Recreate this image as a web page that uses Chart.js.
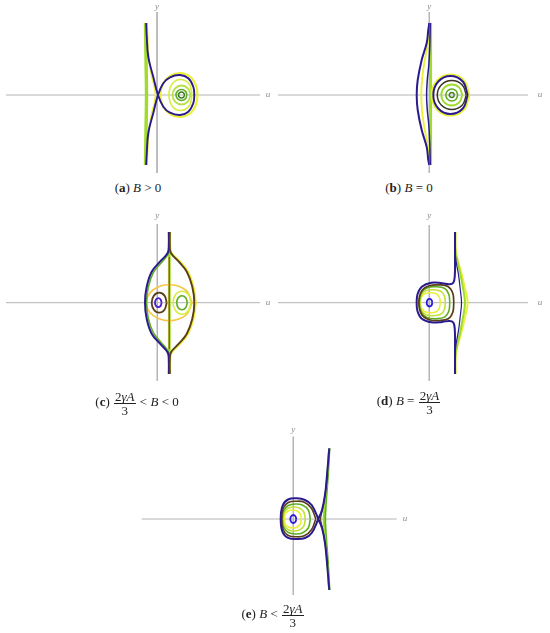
<!DOCTYPE html>
<html lang="en">
<head>
<meta charset="UTF-8">
<title>Phase portraits</title>
<script src="https://cdn.jsdelivr.net/npm/chart.js"></script>
<style>
  body { margin: 0; background: #fff; width: 550px; height: 633px; position: relative; overflow: hidden; font-family: 'Liberation Serif', serif; }
  canvas { position: absolute; }
  .cap { position: absolute; width: 200px; text-align: center; font-size: 13px; line-height: 16px; color: #222; white-space: nowrap; }
  .frac { display: inline-block; vertical-align: middle; text-align: center; line-height: 13px; margin: 0 1px; }
  .frac span { display: block; padding: 0 1px; }
  .frac .num { border-bottom: 1px solid #222; }
</style>
</head>
<body>
<canvas id="pa" width="275" height="180" style="left:0;top:0"></canvas>
<canvas id="pb" width="275" height="180" style="left:275px;top:0"></canvas>
<canvas id="pc" width="275" height="180" style="left:0;top:212px"></canvas>
<canvas id="pd" width="275" height="180" style="left:275px;top:212px"></canvas>
<canvas id="pe" width="280" height="180" style="left:135px;top:425px"></canvas>

<div class="cap" style="left:38px;top:180px">(<b>a</b>) <i>B</i> &gt; 0</div>
<div class="cap" style="left:309px;top:180px">(<b>b</b>) <i>B</i> = 0</div>
<div class="cap" style="left:37px;top:390px">(<b>c</b>) <span class="frac"><span class="num">2<i>γA</i></span><span>3</span></span> &lt; <i>B</i> &lt; 0</div>
<div class="cap" style="left:309px;top:389px">(<b>d</b>) <i>B</i> = <span class="frac"><span class="num">2<i>γA</i></span><span>3</span></span></div>
<div class="cap" style="left:173px;top:602px">(<b>e</b>) <i>B</i> &lt; <span class="frac"><span class="num">2<i>γA</i></span><span>3</span></span></div>

<script>
// axis extents per panel: [uMin, uMax, yMin, yMax, uLabel, yLabel]
const aAxis = [-15.1, 10.3, -7.8, 8.3, 11.1, 8.8];
const bAxis = [-15.13, 9.87, -7.8, 8.3, 11.07, 8.8];
const cAxis = [-15.13, 10.27, -7.83, 7.87, 11.07, 8.67];
const dAxis = [-15.13, 9.87, -7.83, 7.77, 11.07, 8.67];
const eAxis = [-15.16, 10.34, -7.6, 8.23, 11.17, 8.9];

// (a) B > 0
const aGreen = [[-1.15,7.2],[-1.1,3.5],[-1.05,0],[-1.1,-3.5],[-1.15,-7.0]];
const aYellowLeft = [[-1.0,7.2],[-0.85,4.0],[-0.55,2.0],[-0.25,0.8],[-0.15,0],[-0.25,-0.8],[-0.55,-2.0],[-0.85,-4.0],[-1.0,-7.0]];
const aYellowLoop = [[0.3,0],[0.6,1.15],[1.3,1.9],[2.3,2.2],[3.3,1.85],[3.9,0.95],[4.05,0],[3.9,-0.95],[3.3,-1.85],[2.3,-2.2],[1.3,-1.9],[0.6,-1.15],[0.3,0]];
const aSeparatrix = [[-1.08,7.2],[-1.03,6.0],[-0.87,3.8],[-0.37,1.8],[0.1,0],[0.63,-1.17],[1.3,-1.77],[2.3,-2.0],[3.13,-1.67],[3.63,-0.83],[3.73,0],[3.63,0.83],[3.13,1.67],[2.3,2.0],[1.3,1.77],[0.63,1.17],[0.1,0],[-0.37,-1.8],[-0.87,-3.8],[-1.03,-6.0],[-1.08,-7.0]];
const aRingYellow = [[3.5,0],[3.25,1.05],[2.4,1.55],[1.55,1.15],[1.2,0],[1.55,-1.15],[2.4,-1.55],[3.25,-1.05],[3.5,0]];
const aRingLime = [[3.35,0],[3.09,0.67],[2.45,0.95],[1.81,0.67],[1.55,0],[1.81,-0.67],[2.45,-0.95],[3.09,-0.67],[3.35,0]];
const aRingGreen = [[3.0,0],[2.84,0.39],[2.45,0.55],[2.06,0.39],[1.9,0],[2.06,-0.39],[2.45,-0.55],[2.84,-0.39],[3.0,0]];
const aRingDark = [[2.75,0],[2.66,0.21],[2.45,0.3],[2.24,0.21],[2.15,0],[2.24,-0.21],[2.45,-0.3],[2.66,-0.21],[2.75,0]];

// (b) B = 0
const bOuterLeft = [[0.0,7.2],[-0.1,6.5],[-0.26,5.2],[-0.76,3.5],[-1.16,1.5],[-1.26,0],[-1.16,-1.5],[-0.76,-3.5],[-0.26,-5.2],[-0.1,-6.5],[0.0,-7.0]];
const bYellowLeft = [[0.05,7.2],[-0.02,6.3],[-0.15,5.0],[-0.45,3.5],[-0.72,1.6],[-0.8,0],[-0.72,-1.6],[-0.45,-3.5],[-0.15,-5.0],[-0.02,-6.3],[0.05,-7.0]];
const bInnerLeft = [[0.1,7.2],[0.05,5.0],[-0.05,3.0],[-0.2,1.5],[-0.27,0],[-0.2,-1.5],[-0.05,-3.0],[0.05,-5.0],[0.1,-7.0]];
const bGreenLine = [[0.15,7.2],[0.15,-7.0]];
const bLoopYellow = [[4.0,0],[3.47,1.45],[2.12,2.05],[0.77,1.45],[0.25,0],[0.77,-1.45],[2.12,-2.05],[3.47,-1.45],[4.0,0]];
const bLoopNavy = [[3.84,0],[3.35,1.35],[2.12,1.9],[0.9,1.35],[0.4,0],[0.9,-1.35],[2.12,-1.9],[3.35,-1.35],[3.84,0]];
const bRingDark = [[3.7,0],[3.28,1.03],[2.25,1.45],[1.22,1.03],[0.8,0],[1.22,-1.03],[2.25,-1.45],[3.28,-1.03],[3.7,0]];
const bRingLime = [[3.3,0],[3.0,0.74],[2.25,1.05],[1.5,0.74],[1.2,0],[1.5,-0.74],[2.25,-1.05],[3.0,-0.74],[3.3,0]];
const bRingGreen = [[2.85,0],[2.67,0.42],[2.25,0.6],[1.83,0.42],[1.65,0],[1.83,-0.42],[2.25,-0.6],[2.67,-0.42],[2.85,0]];
const bRingInner = [[2.5,0],[2.43,0.18],[2.25,0.25],[2.07,0.18],[2.0,0],[2.07,-0.18],[2.25,-0.25],[2.43,-0.18],[2.5,0]];

// (c) 2γA/3 < B < 0
const cNavy = [[1.15,7.07],[1.15,5.8],[1.05,5.0],[0.27,4.1],[-0.56,3.1],[-1.06,1.6],[-1.23,0],[-1.06,-1.6],[-0.56,-3.1],[0.27,-4.1],[1.05,-5.0],[1.15,-5.8],[1.15,-7.13]];
const cGreenLeft = [[1.2,7.07],[1.2,5.6],[1.08,4.85],[0.4,4.0],[-0.4,3.0],[-0.9,1.55],[-1.07,0],[-0.9,-1.55],[-0.4,-3.0],[0.4,-4.0],[1.08,-4.85],[1.2,-5.6],[1.2,-7.13]];
const cBrown = [[1.25,7.07],[1.25,5.8],[1.35,5.0],[2.15,4.1],[2.95,3.1],[3.5,1.6],[3.7,0],[3.5,-1.6],[2.95,-3.1],[2.15,-4.1],[1.35,-5.0],[1.25,-5.8],[1.25,-7.13]];
const cYellowRight = [[1.3,7.07],[1.3,5.8],[1.42,5.0],[2.25,4.15],[3.08,3.1],[3.62,1.6],[3.85,0],[3.62,-1.6],[3.08,-3.1],[2.25,-4.15],[1.42,-5.0],[1.3,-5.8],[1.3,-7.13]];
const cGreenLine = [[1.2,7.07],[1.2,-7.13]];
const cRedLine = [[1.2,4.57],[1.2,-4.63]];
const cOval = [[3.5,0],[2.83,1.27],[1.2,1.8],[-0.43,1.27],[-1.1,0],[-0.43,-1.27],[1.2,-1.8],[2.83,-1.27],[3.5,0]];
const cBrownRing = [[0.94,0],[0.72,0.71],[0.19,1.0],[-0.34,0.71],[-0.56,0],[-0.34,-0.71],[0.19,-1.0],[0.72,-0.71],[0.94,0]];
const cPurpleRing = [[0.43,0],[0.33,0.32],[0.1,0.45],[-0.13,0.32],[-0.23,0],[-0.13,-0.32],[0.1,-0.45],[0.33,-0.32],[0.43,0]];
const cGreenRing = [[3.0,0],[2.84,0.5],[2.47,0.7],[2.1,0.5],[1.94,0],[2.1,-0.5],[2.47,-0.7],[2.84,-0.5],[3.0,0]];
const cYellowRing = [[3.37,0],[3.11,0.81],[2.47,1.15],[1.83,0.81],[1.57,0],[1.83,-0.81],[2.47,-1.15],[3.11,-0.81],[3.37,0]];

// (d) B = 2γA/3
const dNavy = [[2.57,7.07],[2.57,4.5],[2.55,2.7],[2.4,2.0],[2.0,1.85],[1.3,1.95],[0.2,2.0],[-0.75,1.6],[-1.18,0.85],[-1.26,0],[-1.18,-0.85],[-0.75,-1.6],[0.2,-1.96],[1.3,-1.92],[2.0,-1.82],[2.4,-1.98],[2.55,-2.7],[2.57,-4.5],[2.57,-7.13]];
const dYellowBulge = [[2.62,7.07],[2.62,5.5],[2.75,4.6],[3.2,3.0],[3.6,1.3],[3.84,0],[3.6,-1.3],[3.2,-3.0],[2.75,-4.6],[2.62,-5.5],[2.62,-7.13]];
const dGreenBulge = [[2.6,7.07],[2.6,5.5],[2.72,4.6],[3.08,3.0],[3.4,1.3],[3.57,0],[3.4,-1.3],[3.08,-3.0],[2.72,-4.6],[2.6,-5.5],[2.6,-7.13]];
const dNavyBulge = [[2.58,5.0],[2.7,4.0],[2.92,2.8],[3.1,1.3],[3.22,0],[3.1,-1.3],[2.92,-2.8],[2.7,-4.0],[2.58,-5.0]];
const dBrownRing = [[2.45,0],[2.35,0.95],[1.9,1.6],[1.0,1.78],[0.0,1.7],[-0.75,1.2],[-1.05,0],[-0.75,-1.2],[0.0,-1.7],[1.0,-1.78],[1.9,-1.6],[2.35,-0.95],[2.45,0]];
const dGreenRing = [[2.05,0],[1.95,0.85],[1.55,1.42],[0.7,1.6],[-0.2,1.5],[-0.75,1.05],[-1.0,0],[-0.75,-1.05],[-0.2,-1.5],[0.7,-1.6],[1.55,-1.42],[1.95,-0.85],[2.05,0]];
const dLimeRing = [[1.6,0],[1.5,0.7],[1.15,1.15],[0.4,1.3],[-0.35,1.2],[-0.78,0.8],[-0.95,0],[-0.78,-0.8],[-0.35,-1.2],[0.4,-1.3],[1.15,-1.15],[1.5,-0.7],[1.6,0]];
const dYellowRing = [[1.1,0],[1.0,0.55],[0.7,0.9],[0.1,1.0],[-0.5,0.88],[-0.8,0.5],[-0.9,0],[-0.8,-0.5],[-0.5,-0.88],[0.1,-1.0],[0.7,-0.9],[1.0,-0.55],[1.1,0]];
const dPurpleRing = [[0.3,0],[0.22,0.27],[0.02,0.38],[-0.18,0.27],[-0.26,0],[-0.18,-0.27],[0.02,-0.38],[0.22,-0.27],[0.3,0]];

// (e) B < 2γA/3
const eNavy = [[3.6,7.07],[3.37,4.4],[3.17,2.4],[2.87,0.9],[2.5,0],[1.84,-1.4],[1.17,-1.9],[0.37,-2.0],[-0.53,-1.88],[-1.08,-1.3],[-1.26,0],[-1.08,1.3],[-0.53,1.95],[0.37,2.07],[1.17,1.9],[1.84,1.4],[2.5,0],[2.87,-0.9],[3.17,-2.4],[3.37,-4.4],[3.6,-7.1]];
const eGreen = [[3.6,7.07],[3.45,4.4],[3.3,2.4],[3.2,0.9],[3.17,0],[3.2,-0.9],[3.3,-2.4],[3.45,-4.4],[3.6,-7.1]];
const eLime = [[3.58,7.07],[3.4,4.4],[3.22,2.4],[3.08,0.9],[3.03,0],[3.08,-0.9],[3.22,-2.4],[3.4,-4.4],[3.58,-7.1]];
const eBrownOpen = [[3.45,4.5],[3.2,2.6],[2.95,1.1],[2.78,0.35],[2.72,0],[2.78,-0.35],[2.95,-1.1],[3.2,-2.6],[3.45,-4.5]];
const eBrownRing = [[2.25,0],[1.8,1.1],[1.1,1.68],[0.3,1.78],[-0.5,1.65],[-1.0,1.1],[-1.15,0],[-1.0,-1.1],[-0.5,-1.65],[0.3,-1.78],[1.1,-1.68],[1.8,-1.1],[2.25,0]];
const eGreenRing = [[1.7,0],[1.5,0.9],[0.9,1.4],[0.2,1.5],[-0.5,1.35],[-0.95,0.85],[-1.1,0],[-0.95,-0.85],[-0.5,-1.35],[0.2,-1.5],[0.9,-1.4],[1.5,-0.9],[1.7,0]];
const eLimeRing = [[1.2,0],[1.05,0.7],[0.6,1.1],[0.0,1.2],[-0.55,1.05],[-0.9,0.65],[-1.02,0],[-0.9,-0.65],[-0.55,-1.05],[0.0,-1.2],[0.6,-1.1],[1.05,-0.7],[1.2,0]];
const eYellowRing = [[0.8,0],[0.7,0.5],[0.35,0.82],[-0.1,0.9],[-0.55,0.78],[-0.82,0.45],[-0.9,0],[-0.82,-0.45],[-0.55,-0.78],[-0.1,-0.9],[0.35,-0.82],[0.7,-0.5],[0.8,0]];
const ePurpleRing = [[0.3,0],[0.21,0.28],[0,0.4],[-0.21,0.28],[-0.3,0],[-0.21,-0.28],[0,-0.4],[0.21,-0.28],[0.3,0]];

// colours
const NAVY = '#2a1a8e', GREEN = '#5fae22', LIME = '#9fdc2c', YELLOW = '#eaf03a',
      DKGREEN = '#3d7d22', BROWN = '#5a3e16', RED = '#b2502a', ORANGE = '#f4c846', DARK = '#3a3326';
const AXIS = '#b4b4b4';

const axisNames = {
  id: 'axisNames',
  afterDraw(chart, args, opts) {
    const ctx = chart.ctx, xs = chart.scales.x, ys = chart.scales.y;
    ctx.save();
    ctx.fillStyle = '#8a8a8a';
    ctx.font = 'italic 9px "Liberation Serif"';
    ctx.textAlign = 'center';
    ctx.textBaseline = 'middle';
    ctx.fillText('u', xs.getPixelForValue(opts.u), ys.getPixelForValue(0));
    ctx.fillText('y', xs.getPixelForValue(0), ys.getPixelForValue(opts.y));
    ctx.restore();
  }
};

function line(arr, color, width) {
  return {
    data: arr.map(p => ({ x: p[0], y: p[1] })),
    borderColor: color, borderWidth: width,
    showLine: true, pointRadius: 0, tension: arr.length > 2 ? 0.4 : 0, fill: false
  };
}

// curves listed bottom to top
function panel(id, left, top, ox, oy, axis, curves) {
  const cv = document.getElementById(id);
  const w = cv.width, h = cv.height;
  const sets = [
    line([[axis[0], 0], [axis[1], 0]], AXIS, 1),
    line([[0, axis[3]], [0, axis[2]]], AXIS, 1)
  ].concat(curves.map(c => line(c[0], c[1], c[2])));
  new Chart(cv, {
    type: 'scatter',
    data: { datasets: sets.reverse() },
    options: {
      responsive: false, animation: false,
      layout: { padding: 0 },
      scales: {
        x: { display: false, min: (left - ox) / 10, max: (left + w - ox) / 10 },
        y: { display: false, min: (oy - top - h) / 10, max: (oy - top) / 10 }
      },
      plugins: { legend: { display: false }, tooltip: { enabled: false },
                 axisNames: { u: axis[4], y: axis[5] } }
    },
    plugins: [axisNames]
  });
}

panel('pa', 0, 0, 157, 95, aAxis, [
  [aGreen, LIME, 3.4], [aYellowLeft, YELLOW, 1.8], [aYellowLoop, YELLOW, 2.2],
  [aRingYellow, '#d8ec40', 1.6], [aRingLime, '#b6e04a', 1.8], [aRingGreen, GREEN, 1.6],
  [aRingDark, DKGREEN, 1.5], [aSeparatrix, NAVY, 1.9]
]);

panel('pb', 275, 0, 429.3, 95, bAxis, [
  [bYellowLeft, YELLOW, 1.9], [bOuterLeft, NAVY, 2.0], [bGreenLine, LIME, 2.6], [bInnerLeft, NAVY, 1.5],
  [bLoopYellow, YELLOW, 2.2], [bLoopNavy, NAVY, 1.9], [bRingDark, DARK, 1.5],
  [bRingLime, LIME, 1.9], [bRingGreen, GREEN, 1.6], [bRingInner, DKGREEN, 1.5]
]);

panel('pc', 0, 212, 157.3, 302.7, cAxis, [
  [cGreenLine, LIME, 2.8], [cYellowRight, YELLOW, 1.9], [cOval, ORANGE, 1.6],
  [cGreenLeft, GREEN, 1.6], [cNavy, NAVY, 2.0], [cBrown, BROWN, 1.9], [cRedLine, RED, 1.4],
  [cBrownRing, BROWN, 1.8], [cPurpleRing, '#4a1ad0', 1.8],
  [cYellowRing, '#d6ec40', 1.6], [cGreenRing, GREEN, 1.6]
]);

panel('pd', 275, 212, 429.3, 302.7, dAxis, [
  [dYellowBulge, YELLOW, 2.0], [dGreenBulge, LIME, 2.0], [dNavyBulge, NAVY, 1.2],
  [dYellowRing, YELLOW, 1.6], [dLimeRing, '#c2e23c', 1.6], [dGreenRing, GREEN, 1.6],
  [dBrownRing, BROWN, 1.7], [dNavy, NAVY, 2.0], [dPurpleRing, '#2a1ad8', 1.8]
]);

panel('pe', 135, 425, 293.3, 519, eAxis, [
  [eGreen, GREEN, 2.4], [eLime, LIME, 1.8], [eBrownOpen, BROWN, 1.3],
  [eYellowRing, YELLOW, 1.6], [eLimeRing, '#c2e23c', 1.6], [eGreenRing, GREEN, 1.6],
  [eBrownRing, BROWN, 1.6], [eNavy, NAVY, 2.0], [ePurpleRing, '#2a1ad8', 1.8]
]);
</script>
</body>
</html>
